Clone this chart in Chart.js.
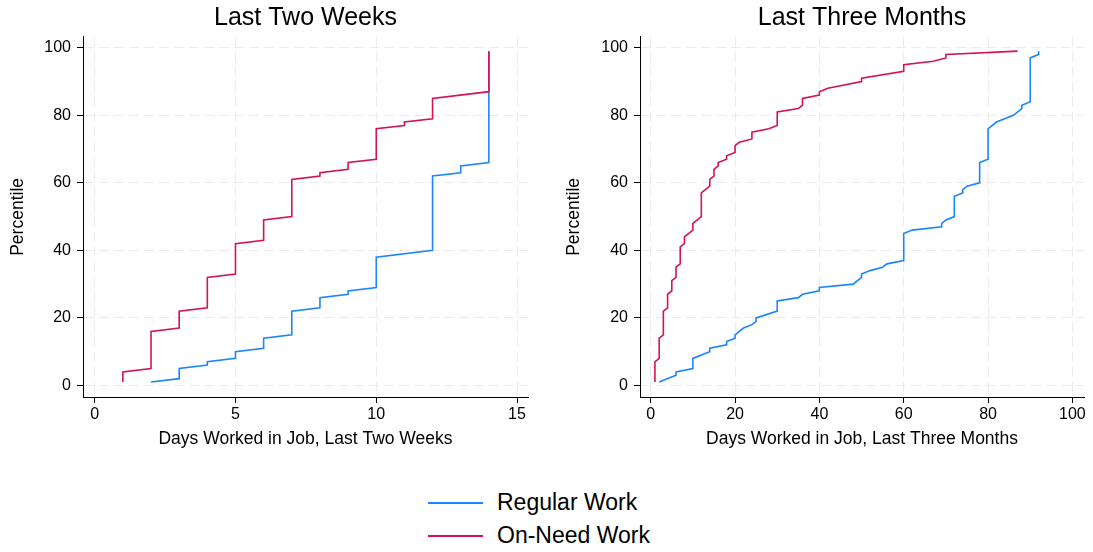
<!DOCTYPE html>
<html>
<head>
<meta charset="utf-8">
<script src="https://cdn.jsdelivr.net/npm/chart.js@4/dist/chart.umd.min.js"></script>
<style>
    body { margin: 0; background: #fff; width: 1093px; height: 552px; position: relative; overflow: hidden; font-family: "Liberation Sans", Arial, sans-serif; }
    canvas { position: absolute; top: 0; }
    .leg-line { position: absolute; left: 428px; width: 55px; height: 2px; }
    .leg-text { position: absolute; left: 497px; font-size: 23px; line-height: 27px; color: #000; white-space: nowrap; }
</style>
</head>
<body>
<canvas id="twoWeeks" width="546" height="460" style="left:0"></canvas>
<canvas id="threeMonths" width="547" height="460" style="left:546px"></canvas>
<div class="leg-line" style="top:502px; background:#1a85ff"></div>
<div class="leg-text" style="top:489px">Regular Work</div>
<div class="leg-line" style="top:535px; background:#d41159"></div>
<div class="leg-text" style="top:522px">On-Need Work</div>
<script>
// ==================== DATA ====================
// Percentile curves: days worked vs. percentile

const twoWeeksRegularDays = [2, 3, 3, 4, 4, 5, 5, 6, 6, 7, 7, 8, 8, 9, 9, 10, 10, 12, 12, 13, 13, 14, 14];
const twoWeeksRegularPct  = [1, 2, 5, 6, 7, 8, 10, 11, 14, 15, 22, 23, 26, 27, 28, 29, 38, 40, 62, 63, 65, 66, 99];

const twoWeeksOnNeedDays = [1, 1, 2, 2, 3, 3, 4, 4, 5, 5, 6, 6, 7, 7, 8, 8, 9, 9, 10, 10, 11, 11, 12, 12, 14, 14];
const twoWeeksOnNeedPct  = [1, 4, 5, 16, 17, 22, 23, 32, 33, 42, 43, 49, 50, 61, 62, 63, 64, 66, 67, 76, 77, 78, 79, 85, 87, 99];

const threeMonthsRegularDays = [2, 6, 6, 10, 10, 14, 14, 18, 18, 20, 20, 22, 24, 25, 25, 30, 30, 35, 36, 40, 40, 48, 50, 50, 52,
    55, 56, 60, 60, 62, 69, 69, 70, 72, 72, 74, 74, 75, 78, 78, 80, 80, 82, 86, 88, 88, 90, 90, 92, 92];
const threeMonthsRegularPct  = [1, 3, 4, 5, 8, 10, 11, 12, 13, 14, 15, 17, 18, 19, 20, 22, 25, 26, 27, 28, 29, 30, 32, 33, 34,
    35, 36, 37, 45, 46, 47, 48, 49, 50, 56, 57, 58, 59, 60, 66, 67, 76, 78, 80, 82, 83, 84, 97, 98, 99];

const threeMonthsOnNeedDays = [1, 1, 2, 2, 3, 3, 4, 4, 5, 5, 6, 6, 7, 7, 8, 8, 10, 10, 12, 12, 14, 14, 15, 15, 16,
    16, 18, 18, 20, 20, 21, 24, 24, 28, 30, 30, 35, 36, 36, 40, 40, 42, 50, 50, 60, 60, 67, 70, 70, 87];
const threeMonthsOnNeedPct  = [1, 7, 8, 14, 15, 22, 23, 27, 28, 31, 32, 35, 36, 41, 42, 44, 46, 48, 50, 57, 59, 61, 62, 64, 65,
    66, 67, 68, 69, 71, 72, 73, 75, 76, 77, 81, 82, 83, 85, 86, 87, 88, 90, 91, 93, 95, 96, 97, 98, 99];

const yTicks = [0, 20, 40, 60, 80, 100];
const twoWeeksXTicks = [0, 5, 10, 15];
const threeMonthsXTicks = [0, 20, 40, 60, 80, 100];

const seriesNames = ['Regular Work', 'On-Need Work'];
const BLUE = '#1a85ff';
const RED = '#d41159';
const FONT = '"Liberation Sans", Arial, sans-serif';

// ==================== HELPERS ====================

function toPoints(days, pct) {
    return days.map((d, i) => ({ x: d, y: pct[i] }));
}

function axisStyle() {
    return {
        grid: { color: '#ebebeb', lineWidth: 1, tickLength: 6, tickColor: '#000', tickWidth: 1, tickBorderDash: [] },
        border: { display: true, color: '#000', width: 1, dash: [10, 5] },
        ticks: { color: '#000', font: { family: FONT, size: 16 } }
    };
}

function makeChart(id, cfg) {
    const xAxis = axisStyle();
    const yAxis = axisStyle();
    xAxis.ticks.padding = 2;
    yAxis.ticks.padding = 6;

    return new Chart(document.getElementById(id), {
        type: 'line',
        data: {
            datasets: [
                { label: seriesNames[0], data: cfg.regular, borderColor: BLUE, order: 1 },
                { label: seriesNames[1], data: cfg.onNeed, borderColor: RED, order: 0 }
            ]
        },
        options: {
            responsive: false,
            animation: false,
            events: [],
            elements: {
                line: { borderWidth: 1.6, tension: 0, fill: false },
                point: { radius: 0 }
            },
            layout: { padding: { left: 0, right: cfg.padRight, top: 0, bottom: 0 } },
            plugins: {
                legend: { display: false },
                tooltip: { enabled: false },
                title: {
                    display: true,
                    text: cfg.title,
                    fullSize: false,
                    color: '#000',
                    font: { family: FONT, size: 25, weight: 'normal' },
                    padding: { top: 3, bottom: 3.8 }
                }
            },
            scales: {
                x: {
                    ...xAxis,
                    type: 'linear',
                    min: cfg.xMin,
                    max: cfg.xMax,
                    afterBuildTicks: s => { s.ticks = cfg.xTicks.map(v => ({ value: v })); },
                    afterFit: s => { s.height = 63; },
                    title: {
                        display: true,
                        text: cfg.xTitle,
                        color: '#000',
                        font: { family: FONT, size: 17.5 },
                        padding: { top: 0, bottom: 10.5 }
                    }
                },
                y: {
                    ...yAxis,
                    min: -3.43,
                    max: 103.25,
                    afterBuildTicks: s => { s.ticks = yTicks.map(v => ({ value: v })); },
                    afterFit: s => { s.width = cfg.yWidth; },
                    title: {
                        display: true,
                        text: 'Percentile',
                        color: '#000',
                        font: { family: FONT, size: 17.5 },
                        padding: { top: cfg.yTitlePad, bottom: 0 }
                    }
                }
            }
        }
    });
}

// ==================== CHARTS ====================

makeChart('twoWeeks', {
    title: 'Last Two Weeks',
    xTitle: 'Days Worked in Job, Last Two Weeks',
    regular: toPoints(twoWeeksRegularDays, twoWeeksRegularPct),
    onNeed: toPoints(twoWeeksOnNeedDays, twoWeeksOnNeedPct),
    xTicks: twoWeeksXTicks,
    xMin: -0.416,
    xMax: 15.39,
    yWidth: 83,
    yTitlePad: 7.5,
    padRight: 18
});

makeChart('threeMonths', {
    title: 'Last Three Months',
    xTitle: 'Days Worked in Job, Last Three Months',
    regular: toPoints(threeMonthsRegularDays, threeMonthsRegularPct),
    onNeed: toPoints(threeMonthsOnNeedDays, threeMonthsOnNeedPct),
    xTicks: threeMonthsXTicks,
    xMin: -2.54,
    xMax: 102.75,
    yWidth: 94,
    yTitlePad: 17.5,
    padRight: 9
});
</script>
</body>
</html>
